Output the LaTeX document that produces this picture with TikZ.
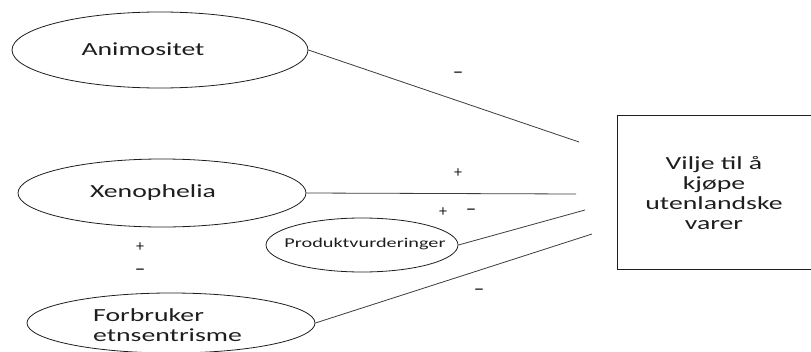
\documentclass[tikz,border=0pt]{standalone}
\usepackage{fontspec}
\setmainfont{Carlito}
\newfontfamily\labelfont[FakeStretch=1.5]{Carlito}
\usetikzlibrary{shapes.geometric}
\definecolor{ink}{HTML}{1E1E1E}
\definecolor{wire}{HTML}{3C3C3C}
\tikzset{
  factor/.style={draw=ink, line width=0.8pt, ellipse, inner sep=0pt},
  lbl/.style={text=ink, font=\labelfont\fontsize{18.5}{20}\selectfont, inner sep=0pt},
  small/.style={text=ink, font=\labelfont\fontsize{13.5}{15}\selectfont, inner sep=0pt},
  plus/.style={text=ink, font=\fontsize{16}{16}\selectfont, inner sep=0pt},
  minus/.style={text=ink, font=\fontsize{21}{21}\selectfont, inner sep=0pt},
  link/.style={draw=wire, line width=0.8pt},
  outcome/.style={rectangle, inner sep=0pt},
  frame/.style={draw=ink, line width=0.9pt}
}
\begin{document}
\begin{tikzpicture}[x=1pt, y=-1pt]
\useasboundingbox (0,0) rectangle (811,351);
\clip (0,0) rectangle (811,351);

% explanatory factors
\node[factor, minimum width=296pt, minimum height=76pt] (anim) at (160,50) {};
\node[lbl] (animT) at (143,49) {Animositet};

\node[factor, minimum width=288pt, minimum height=68pt] (xeno) at (162,193) {};
\node[lbl] (xenoT) at (153,193) {Xenophelia};

\node[factor, minimum width=192pt, minimum height=54pt] (prod) at (362,245) {};
\node[small] (prodT) at (365,244) {Produktvurderinger};

\node[factor, minimum width=288pt, minimum height=60pt] (etno) at (171,323) {};
\node[lbl, align=left, anchor=west] (etnoT) at (93,325) {Forbruker\\etnsentrisme};

% outcome box, open towards the right edge
\node[outcome, minimum width=300pt, minimum height=153pt] (will) at (768,192.5) {};
\draw[frame] (will.north east) -- (will.north west) -- (will.south west) -- (will.south east);
\node[lbl, align=center] (willT) at (714,193) {Vilje til å\\kjøpe\\utenlandske\\varer};

% loose ends of the paths, short of the outcome box
\coordinate (eA) at (579,142);
\coordinate (eX) at (576,194);
\coordinate (eP) at (585,210);
\coordinate (eE) at (592,234);

\draw[link] (anim.east) -- (eA);
\draw[link] (xeno.east) -- (eX);
\draw[link] (prod.east) -- (eP);
\draw[link] (etno.east) -- (eE);

% effect signs
\node[minus] (sA)  at (458,75) {–};
\node[plus]  (sX)  at (458,173) {+};
\node[plus]  (sP1) at (443,212) {+};
\node[minus] (sP2) at (471,212) {–};
\node[minus] (sE)  at (479,292) {–};
\node[plus]  (sXE1) at (140,247) {+};
\node[minus] (sXE2) at (140,272) {–};
\end{tikzpicture}
\end{document}
